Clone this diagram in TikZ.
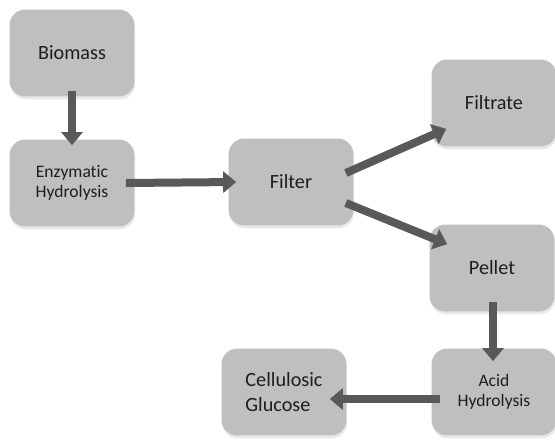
\documentclass[tikz,border=0pt]{standalone}
\usepackage{fontspec}
\setmainfont{Carlito}[RawFeature=-liga]
\usetikzlibrary{arrows.meta,shadows}
\definecolor{BoxGray}{RGB}{191,191,191}
\definecolor{ArrowGray}{RGB}{89,89,89}
\definecolor{Ink}{RGB}{30,30,30}
\tikzset{
  >=Triangle,
  stage/.style={rounded corners=9pt,fill=BoxGray,align=center,text=Ink,font=\fontsize{11.5}{14.2}\selectfont,minimum width=2.5cm,minimum height=1.74cm,inner sep=2pt,drop shadow={shadow xshift=0.4pt,shadow yshift=-1.6pt,opacity=0.18}},
  small/.style={stage,font=\fontsize{10}{11.4}\selectfont},
  flow/.style={-{Triangle[length=0.26cm,width=0.42cm]},line width=0.16cm,draw=ArrowGray}
}
\begin{document}
\begin{tikzpicture}[x=0.02cm,y=-0.02cm]
  \useasboundingbox (0,0) rectangle (555,440);
  \node[stage] (bio) at (72,53) {Biomass};
  \node[small] (enz) at (72,183) {Enzymatic\\Hydrolysis};
  \node[stage] (filt) at (291,182) {Filter};
  \node[stage] (filtr) at (494,103) {Filtrate};
  \node[stage] (pel) at (492,268) {Pellet};
  \node[small] (acid) at (494,392) {Acid\\Hydrolysis};
  \node[stage,align=left] (gluc) at (284,392) {Cellulosic\\Glucose};
    \draw[flow] ([shift={(0,-6)}]bio.south) -- ([shift={(0,6)}]enz.north);
    \draw[flow] ([shift={(-9,0)}]enz.east) -- ([shift={(8,0)}]filt.west);
    \draw[flow] ([shift={(-8,-9)}]filt.east) -- ([shift={(15,-18)}]filtr.south west);
    \draw[flow] ([shift={(-8,21)}]filt.east) -- ([shift={(18,20)}]pel.north west);
    \draw[flow] ([shift={(1,-10)}]pel.south) -- ([shift={(-1,13)}]acid.north);
    \draw[flow] ([shift={(9,7)}]acid.west) -- ([shift={(-17,7)}]gluc.east);
\end{tikzpicture}
\end{document}
